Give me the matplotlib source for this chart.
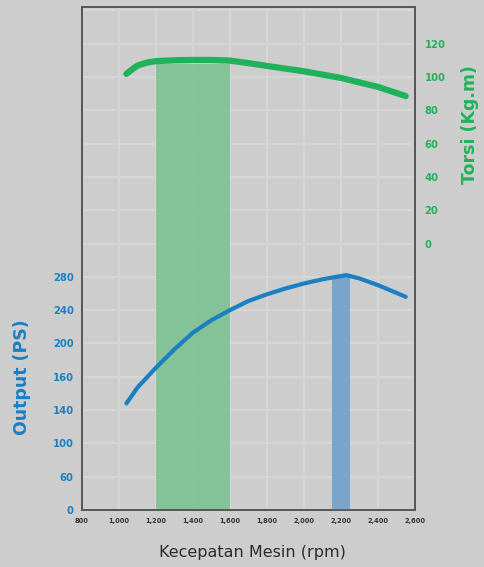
import matplotlib
matplotlib.use("Agg")
import matplotlib.pyplot as plt
import numpy as np

# ---- data ----
rpm_torque = [1040, 1070, 1100, 1150, 1200, 1300, 1400, 1500, 1600, 1700, 1800, 2000, 2200, 2400, 2550]
torque = [101.8, 104.5, 106.8, 108.6, 109.5, 110.0, 110.2, 110.2, 109.8, 108.3, 106.6, 103.4, 99.4, 94.0, 88.5]

rpm_power = [1040, 1100, 1200, 1300, 1400, 1500, 1600, 1700, 1800, 1900, 2000, 2100, 2200, 2230, 2300, 2400, 2550]
power = [128, 147, 171, 193, 213, 228, 240, 251, 259, 266, 272, 277, 281, 282, 278, 270, 256]

x_ticks = [800, 1000, 1200, 1400, 1600, 1800, 2000, 2200, 2400, 2600]
x_labels = ["800", "1,000", "1,200", "1,400", "1,600", "1,800", "2,000", "2,200", "2,400", "2,600"]
power_ticks = [0, 40, 80, 120, 160, 200, 240, 280]
power_labels = ["0", "60", "100", "140", "160", "200", "240", "280"]
torque_ticks = [0, 20, 40, 60, 80, 100, 120]

torque_band = (1200, 1600, 108)   # start rpm, end rpm, top (torque)
power_band = (2150, 2250, 281)    # start rpm, end rpm, top (power)

# ---- style ----
BG = "#cdcdcd"
GREEN = "#1fb25a"
BLUE = "#1b7fc2"
FONT = "DejaVu Sans"

fig = plt.figure(figsize=(4.84, 5.67), dpi=100, facecolor=BG)
ax = fig.add_axes([0.1694, 0.1005, 0.6880, 0.8872])
ax.set_xlim(800, 2600)
ax.set_ylim(0, 604)
ax2 = ax.twinx()
ax2.set_ylim(-160, 142)

# ax2 is the background layer (torque), ax on top (power)
ax2.set_zorder(1)
ax.set_zorder(2)
ax.patch.set_visible(False)
ax2.patch.set_visible(True)
ax2.set_facecolor(BG)

# grid (on the background layer)
for y in np.arange(-140, 142, 20):
    ax2.axhline(y, color="#d7d7d7", lw=1.4, zorder=0)
for xv in x_ticks[1:-1]:
    ax2.axvline(xv, color="#d7d7d7", lw=1.4, zorder=0)

# bands
ax2.bar((torque_band[0] + torque_band[1]) / 2, torque_band[2] + 160,
        width=torque_band[1] - torque_band[0], bottom=-160,
        color="#7cc292", alpha=0.9, zorder=1)
ax.bar((power_band[0] + power_band[1]) / 2, power_band[2],
       width=power_band[1] - power_band[0], bottom=0,
       color="#7aa5cb", zorder=1)

# lines
ax.plot(rpm_power, power, color=BLUE, lw=3.0, solid_capstyle="round", zorder=3)
ax2.plot(rpm_torque, torque, color=GREEN, lw=4.5, solid_capstyle="round", zorder=3)

# ticks
ax.set_xticks(x_ticks)
ax.set_xticklabels(x_labels, fontsize=4.8, fontweight="bold", color="#333333", family=FONT)
ax.set_yticks(power_ticks)
ax.set_yticklabels(power_labels, fontsize=7.2, fontweight="bold", color=BLUE, family=FONT)
ax2.set_yticks(torque_ticks)
ax2.set_yticklabels([str(t) for t in torque_ticks], fontsize=7.2, fontweight="bold",
                    color=GREEN, family=FONT)
ax.tick_params(axis="both", length=0)
ax.tick_params(axis="x", pad=6)
ax.tick_params(axis="y", pad=6)
ax2.tick_params(axis="y", length=0, pad=7)

for a in (ax, ax2):
    for s in a.spines.values():
        s.set_color("#555555")
        s.set_linewidth(1.2)

# labels
fig.text(0.045, 1 - 377 / 567, "Output (PS)", rotation=90, ha="center", va="center",
         fontsize=12.5, fontweight="bold", color=BLUE, family=FONT)
fig.text(0.972, 1 - 125 / 567, "Torsi (Kg.m)", rotation=90, ha="center", va="center",
         fontsize=12.5, fontweight="bold", color=GREEN, family=FONT)
fig.text(252 / 484, 1 - 552 / 567, "Kecepatan Mesin (rpm)", ha="center", va="center",
         fontsize=11.5, color="#2b2b2b", family=FONT)

fig.savefig("out.png", dpi=100, facecolor=BG)
